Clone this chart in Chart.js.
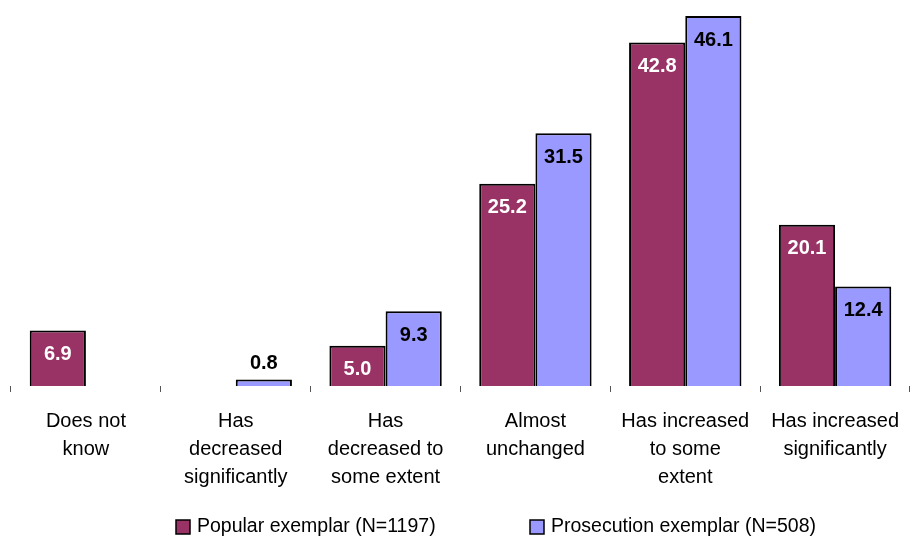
<!DOCTYPE html>
<html>
<head>
<meta charset="utf-8">
<script src="https://cdn.jsdelivr.net/npm/chart.js@4/dist/chart.umd.min.js"></script>
<style>
  html, body { margin: 0; padding: 0; background: #fff; }
  #wrap { width: 916px; height: 538px; }
</style>
</head>
<body>
<div id="wrap"><canvas id="chart" width="916" height="538"></canvas></div>
<script>
// Answer categories (multi-line axis labels)
const categories = [
  ["Does not", "know"],
  ["Has", "decreased", "significantly"],
  ["Has", "decreased to", "some extent"],
  ["Almost", "unchanged"],
  ["Has increased", "to some", "extent"],
  ["Has increased", "significantly"]
];

// Share of respondents, %
const popularValues     = [6.9, null, 5.0, 25.2, 42.8, 20.1];
const prosecutionValues = [null, 0.8, 9.3, 31.5, 46.1, 12.4];

const seriesNames = ["Popular exemplar (N=1197)", "Prosecution exemplar (N=508)"];
const seriesColors = ['#993366', '#9999ff'];

const FONT = "'Liberation Sans Narrow', 'Arial Narrow', 'Liberation Sans', Arial, sans-serif";

// Value labels drawn at the top of each bar
const valueLabels = {
  id: 'valueLabels',
  afterDatasetsDraw(chart) {
    const ctx = chart.ctx;
    ctx.save();
    ctx.font = "bold 20px " + FONT;
    ctx.textAlign = 'center';
    ctx.textBaseline = 'middle';
    chart.data.datasets.forEach((ds, di) => {
      const meta = chart.getDatasetMeta(di);
      meta.data.forEach((bar, i) => {
        const v = ds.data[i];
        if (v === null || v === undefined) return;
        const h = bar.base - bar.y;
        let y;
        if (h > 30) {
          y = bar.y + 24;
          ctx.fillStyle = di === 0 ? '#ffffff' : '#000000';
        } else {
          y = bar.y - 16;
          ctx.fillStyle = '#000000';
        }
        ctx.fillText(v.toFixed(1), bar.x, y);
      });
    });
    ctx.restore();
  }
};

// Legend row under the axis labels: square swatch + series name
const bottomLegend = {
  id: 'bottomLegend',
  afterDraw(chart) {
    const ctx = chart.ctx;
    const items = [
      { x: 176, idx: 0 },
      { x: 530, idx: 1 }
    ];
    const cy = 527;
    ctx.save();
    ctx.font = "19.5px " + FONT;
    ctx.textBaseline = 'middle';
    ctx.textAlign = 'left';
    items.forEach(it => {
      const ds = chart.data.datasets[it.idx];
      ctx.fillStyle = ds.backgroundColor;
      ctx.fillRect(it.x, cy - 7, 14, 14);
      ctx.strokeStyle = '#000000';
      ctx.lineWidth = 1.5;
      ctx.strokeRect(it.x, cy - 7, 14, 14);
      ctx.fillStyle = '#000000';
      ctx.fillText(ds.label, it.x + 21, cy);
    });
    ctx.restore();
  }
};

new Chart(document.getElementById('chart'), {
  type: 'bar',
  data: {
    labels: categories,
    datasets: [
      {
        label: seriesNames[0],
        data: popularValues,
        backgroundColor: seriesColors[0],
        borderColor: '#000000',
        borderWidth: 2,
        categoryPercentage: 0.75,
        barPercentage: 1.0
      },
      {
        label: seriesNames[1],
        data: prosecutionValues,
        backgroundColor: seriesColors[1],
        borderColor: '#000000',
        borderWidth: 2,
        categoryPercentage: 0.75,
        barPercentage: 1.0
      }
    ]
  },
  options: {
    responsive: false,
    animation: false,
    layout: { padding: { left: 11, right: 6, top: 16, bottom: 32 } },
    scales: {
      x: {
        grid: {
          offset: true,
          drawOnChartArea: false,
          drawTicks: true,
          tickLength: 6,
          tickWidth: 1,
          tickColor: '#555555'
        },
        border: { display: false },
        ticks: {
          color: '#000000',
          font: { family: FONT, size: 20, lineHeight: 1.4 },
          padding: 15,
          maxRotation: 0,
          autoSkip: false
        }
      },
      y: {
        display: false,
        min: 0,
        max: 46.1
      }
    },
    plugins: {
      legend: { display: false },
      tooltip: { enabled: false }
    }
  },
  plugins: [valueLabels, bottomLegend]
});
</script>
</body>
</html>
